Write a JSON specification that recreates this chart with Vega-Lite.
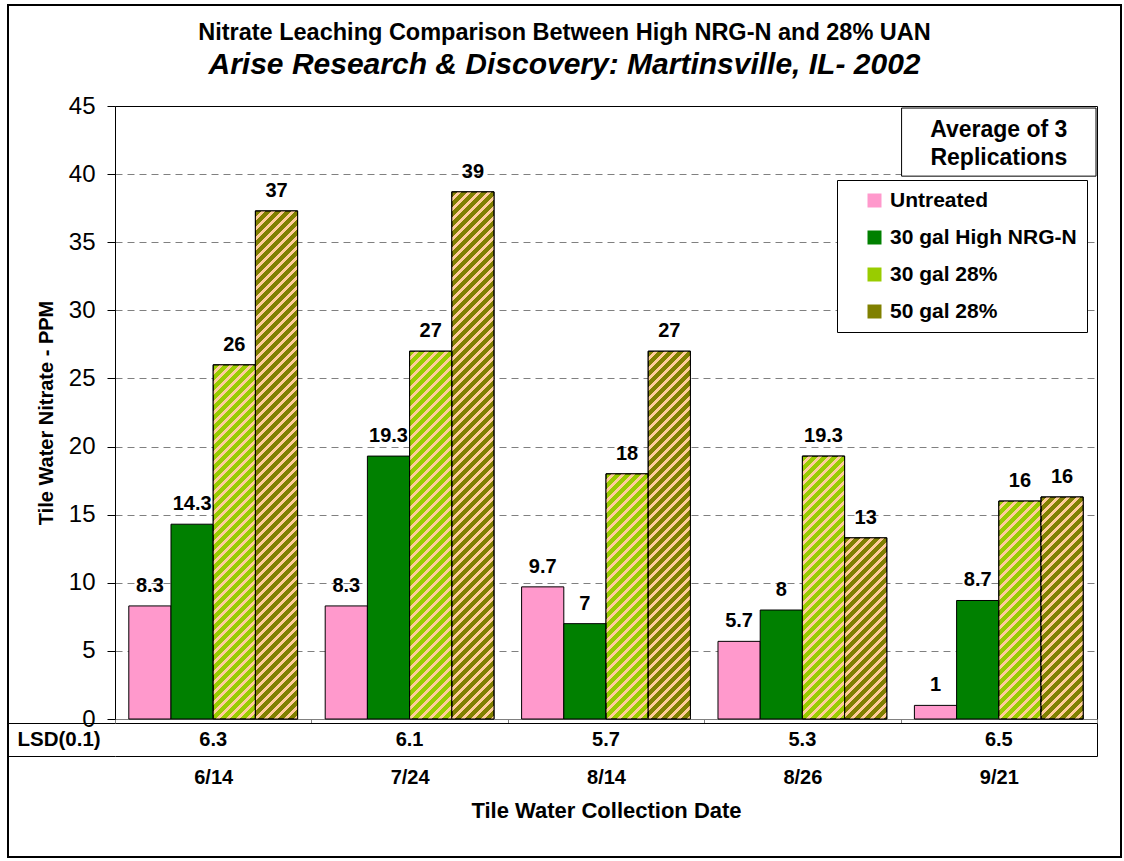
{
  "$schema": "https://vega.github.io/schema/vega-lite/v6.json",
  "width": 1113,
  "height": 852,
  "autosize": {"type": "none"},
  "padding": {"left": 8, "top": 5, "right": 3, "bottom": 4},
  "background": "white",
  "config": {
    "font": "Liberation Sans",
    "view": {"stroke": "black", "strokeWidth": 2},
    "axis": {"labelColor": "black", "titleColor": "black"}
  },
  "title": {
    "text": "Nitrate Leaching Comparison Between High NRG-N and 28% UAN",
    "subtitle": "Arise Research & Discovery: Martinsville, IL- 2002",
    "anchor": "middle",
    "frame": "group",
    "fontSize": 23.5,
    "fontWeight": "bold",
    "color": "black",
    "subtitleFontSize": 30,
    "subtitleFontWeight": "bold",
    "subtitleFontStyle": "italic",
    "subtitleColor": "black",
    "subtitlePadding": 6,
    "offset": -85
  },
  "params": [
    {
      "name": "stripes",
      "value": [
        {"offset":0,"color":"transparent"},{"offset":0.0096,"color":"transparent"},{"offset":0.0096,"color":"#FFCC99"},{"offset":0.016,"color":"#FFCC99"},
        {"offset":0.016,"color":"transparent"},{"offset":0.0256,"color":"transparent"},{"offset":0.0256,"color":"#FFCC99"},{"offset":0.032,"color":"#FFCC99"},
        {"offset":0.032,"color":"transparent"},{"offset":0.0416,"color":"transparent"},{"offset":0.0416,"color":"#FFCC99"},{"offset":0.048,"color":"#FFCC99"},
        {"offset":0.048,"color":"transparent"},{"offset":0.0576,"color":"transparent"},{"offset":0.0576,"color":"#FFCC99"},{"offset":0.064,"color":"#FFCC99"},
        {"offset":0.064,"color":"transparent"},{"offset":0.0736,"color":"transparent"},{"offset":0.0736,"color":"#FFCC99"},{"offset":0.08,"color":"#FFCC99"},
        {"offset":0.08,"color":"transparent"},{"offset":0.0896,"color":"transparent"},{"offset":0.0896,"color":"#FFCC99"},{"offset":0.096,"color":"#FFCC99"},
        {"offset":0.096,"color":"transparent"},{"offset":0.1056,"color":"transparent"},{"offset":0.1056,"color":"#FFCC99"},{"offset":0.112,"color":"#FFCC99"},
        {"offset":0.112,"color":"transparent"},{"offset":0.1216,"color":"transparent"},{"offset":0.1216,"color":"#FFCC99"},{"offset":0.128,"color":"#FFCC99"},
        {"offset":0.128,"color":"transparent"},{"offset":0.1376,"color":"transparent"},{"offset":0.1376,"color":"#FFCC99"},{"offset":0.144,"color":"#FFCC99"},
        {"offset":0.144,"color":"transparent"},{"offset":0.1536,"color":"transparent"},{"offset":0.1536,"color":"#FFCC99"},{"offset":0.16,"color":"#FFCC99"},
        {"offset":0.16,"color":"transparent"},{"offset":0.1696,"color":"transparent"},{"offset":0.1696,"color":"#FFCC99"},{"offset":0.176,"color":"#FFCC99"},
        {"offset":0.176,"color":"transparent"},{"offset":0.1856,"color":"transparent"},{"offset":0.1856,"color":"#FFCC99"},{"offset":0.192,"color":"#FFCC99"},
        {"offset":0.192,"color":"transparent"},{"offset":0.2016,"color":"transparent"},{"offset":0.2016,"color":"#FFCC99"},{"offset":0.208,"color":"#FFCC99"},
        {"offset":0.208,"color":"transparent"},{"offset":0.2176,"color":"transparent"},{"offset":0.2176,"color":"#FFCC99"},{"offset":0.224,"color":"#FFCC99"},
        {"offset":0.224,"color":"transparent"},{"offset":0.2336,"color":"transparent"},{"offset":0.2336,"color":"#FFCC99"},{"offset":0.24,"color":"#FFCC99"},
        {"offset":0.24,"color":"transparent"},{"offset":0.2496,"color":"transparent"},{"offset":0.2496,"color":"#FFCC99"},{"offset":0.256,"color":"#FFCC99"},
        {"offset":0.256,"color":"transparent"},{"offset":0.2656,"color":"transparent"},{"offset":0.2656,"color":"#FFCC99"},{"offset":0.272,"color":"#FFCC99"},
        {"offset":0.272,"color":"transparent"},{"offset":0.2816,"color":"transparent"},{"offset":0.2816,"color":"#FFCC99"},{"offset":0.288,"color":"#FFCC99"},
        {"offset":0.288,"color":"transparent"},{"offset":0.2976,"color":"transparent"},{"offset":0.2976,"color":"#FFCC99"},{"offset":0.304,"color":"#FFCC99"},
        {"offset":0.304,"color":"transparent"},{"offset":0.3136,"color":"transparent"},{"offset":0.3136,"color":"#FFCC99"},{"offset":0.32,"color":"#FFCC99"},
        {"offset":0.32,"color":"transparent"},{"offset":0.3296,"color":"transparent"},{"offset":0.3296,"color":"#FFCC99"},{"offset":0.336,"color":"#FFCC99"},
        {"offset":0.336,"color":"transparent"},{"offset":0.3456,"color":"transparent"},{"offset":0.3456,"color":"#FFCC99"},{"offset":0.352,"color":"#FFCC99"},
        {"offset":0.352,"color":"transparent"},{"offset":0.3616,"color":"transparent"},{"offset":0.3616,"color":"#FFCC99"},{"offset":0.368,"color":"#FFCC99"},
        {"offset":0.368,"color":"transparent"},{"offset":0.3776,"color":"transparent"},{"offset":0.3776,"color":"#FFCC99"},{"offset":0.384,"color":"#FFCC99"},
        {"offset":0.384,"color":"transparent"},{"offset":0.3936,"color":"transparent"},{"offset":0.3936,"color":"#FFCC99"},{"offset":0.4,"color":"#FFCC99"},
        {"offset":0.4,"color":"transparent"},{"offset":0.4096,"color":"transparent"},{"offset":0.4096,"color":"#FFCC99"},{"offset":0.416,"color":"#FFCC99"},
        {"offset":0.416,"color":"transparent"},{"offset":0.4256,"color":"transparent"},{"offset":0.4256,"color":"#FFCC99"},{"offset":0.432,"color":"#FFCC99"},
        {"offset":0.432,"color":"transparent"},{"offset":0.4416,"color":"transparent"},{"offset":0.4416,"color":"#FFCC99"},{"offset":0.448,"color":"#FFCC99"},
        {"offset":0.448,"color":"transparent"},{"offset":0.4576,"color":"transparent"},{"offset":0.4576,"color":"#FFCC99"},{"offset":0.464,"color":"#FFCC99"},
        {"offset":0.464,"color":"transparent"},{"offset":0.4736,"color":"transparent"},{"offset":0.4736,"color":"#FFCC99"},{"offset":0.48,"color":"#FFCC99"},
        {"offset":0.48,"color":"transparent"},{"offset":0.4896,"color":"transparent"},{"offset":0.4896,"color":"#FFCC99"},{"offset":0.496,"color":"#FFCC99"},
        {"offset":0.496,"color":"transparent"},{"offset":0.5056,"color":"transparent"},{"offset":0.5056,"color":"#FFCC99"},{"offset":0.512,"color":"#FFCC99"},
        {"offset":0.512,"color":"transparent"},{"offset":0.5216,"color":"transparent"},{"offset":0.5216,"color":"#FFCC99"},{"offset":0.528,"color":"#FFCC99"},
        {"offset":0.528,"color":"transparent"},{"offset":0.5376,"color":"transparent"},{"offset":0.5376,"color":"#FFCC99"},{"offset":0.544,"color":"#FFCC99"},
        {"offset":0.544,"color":"transparent"},{"offset":0.5536,"color":"transparent"},{"offset":0.5536,"color":"#FFCC99"},{"offset":0.56,"color":"#FFCC99"},
        {"offset":0.56,"color":"transparent"},{"offset":0.5696,"color":"transparent"},{"offset":0.5696,"color":"#FFCC99"},{"offset":0.576,"color":"#FFCC99"},
        {"offset":0.576,"color":"transparent"},{"offset":0.5856,"color":"transparent"},{"offset":0.5856,"color":"#FFCC99"},{"offset":0.592,"color":"#FFCC99"},
        {"offset":0.592,"color":"transparent"},{"offset":0.6016,"color":"transparent"},{"offset":0.6016,"color":"#FFCC99"},{"offset":0.608,"color":"#FFCC99"},
        {"offset":0.608,"color":"transparent"},{"offset":0.6176,"color":"transparent"},{"offset":0.6176,"color":"#FFCC99"},{"offset":0.624,"color":"#FFCC99"},
        {"offset":0.624,"color":"transparent"},{"offset":0.6336,"color":"transparent"},{"offset":0.6336,"color":"#FFCC99"},{"offset":0.64,"color":"#FFCC99"},
        {"offset":0.64,"color":"transparent"},{"offset":0.6496,"color":"transparent"},{"offset":0.6496,"color":"#FFCC99"},{"offset":0.656,"color":"#FFCC99"},
        {"offset":0.656,"color":"transparent"},{"offset":0.6656,"color":"transparent"},{"offset":0.6656,"color":"#FFCC99"},{"offset":0.672,"color":"#FFCC99"},
        {"offset":0.672,"color":"transparent"},{"offset":0.6816,"color":"transparent"},{"offset":0.6816,"color":"#FFCC99"},{"offset":0.688,"color":"#FFCC99"},
        {"offset":0.688,"color":"transparent"},{"offset":0.6976,"color":"transparent"},{"offset":0.6976,"color":"#FFCC99"},{"offset":0.704,"color":"#FFCC99"},
        {"offset":0.704,"color":"transparent"},{"offset":0.7136,"color":"transparent"},{"offset":0.7136,"color":"#FFCC99"},{"offset":0.72,"color":"#FFCC99"},
        {"offset":0.72,"color":"transparent"},{"offset":0.7296,"color":"transparent"},{"offset":0.7296,"color":"#FFCC99"},{"offset":0.736,"color":"#FFCC99"},
        {"offset":0.736,"color":"transparent"},{"offset":0.7456,"color":"transparent"},{"offset":0.7456,"color":"#FFCC99"},{"offset":0.752,"color":"#FFCC99"},
        {"offset":0.752,"color":"transparent"},{"offset":0.7616,"color":"transparent"},{"offset":0.7616,"color":"#FFCC99"},{"offset":0.768,"color":"#FFCC99"},
        {"offset":0.768,"color":"transparent"},{"offset":0.7776,"color":"transparent"},{"offset":0.7776,"color":"#FFCC99"},{"offset":0.784,"color":"#FFCC99"},
        {"offset":0.784,"color":"transparent"},{"offset":0.7936,"color":"transparent"},{"offset":0.7936,"color":"#FFCC99"},{"offset":0.8,"color":"#FFCC99"},
        {"offset":0.8,"color":"transparent"},{"offset":0.8096,"color":"transparent"},{"offset":0.8096,"color":"#FFCC99"},{"offset":0.816,"color":"#FFCC99"},
        {"offset":0.816,"color":"transparent"},{"offset":0.8256,"color":"transparent"},{"offset":0.8256,"color":"#FFCC99"},{"offset":0.832,"color":"#FFCC99"},
        {"offset":0.832,"color":"transparent"},{"offset":0.8416,"color":"transparent"},{"offset":0.8416,"color":"#FFCC99"},{"offset":0.848,"color":"#FFCC99"},
        {"offset":0.848,"color":"transparent"},{"offset":0.8576,"color":"transparent"},{"offset":0.8576,"color":"#FFCC99"},{"offset":0.864,"color":"#FFCC99"},
        {"offset":0.864,"color":"transparent"},{"offset":0.8736,"color":"transparent"},{"offset":0.8736,"color":"#FFCC99"},{"offset":0.88,"color":"#FFCC99"},
        {"offset":0.88,"color":"transparent"},{"offset":0.8896,"color":"transparent"},{"offset":0.8896,"color":"#FFCC99"},{"offset":0.896,"color":"#FFCC99"},
        {"offset":0.896,"color":"transparent"},{"offset":0.9056,"color":"transparent"},{"offset":0.9056,"color":"#FFCC99"},{"offset":0.912,"color":"#FFCC99"},
        {"offset":0.912,"color":"transparent"},{"offset":0.9216,"color":"transparent"},{"offset":0.9216,"color":"#FFCC99"},{"offset":0.928,"color":"#FFCC99"}
      ]
    }
  ],
  "datasets": {
    "nitrate": [
      {"date": "6/14", "series": "Untreated", "value": 8.3, "label": "8.3"},
      {"date": "6/14", "series": "30 gal High NRG-N", "value": 14.3, "label": "14.3"},
      {"date": "6/14", "series": "30 gal 28%", "value": 26, "label": "26"},
      {"date": "6/14", "series": "50 gal 28%", "value": 37.3, "label": "37"},
      {"date": "7/24", "series": "Untreated", "value": 8.3, "label": "8.3"},
      {"date": "7/24", "series": "30 gal High NRG-N", "value": 19.3, "label": "19.3"},
      {"date": "7/24", "series": "30 gal 28%", "value": 27, "label": "27"},
      {"date": "7/24", "series": "50 gal 28%", "value": 38.7, "label": "39"},
      {"date": "8/14", "series": "Untreated", "value": 9.7, "label": "9.7"},
      {"date": "8/14", "series": "30 gal High NRG-N", "value": 7, "label": "7"},
      {"date": "8/14", "series": "30 gal 28%", "value": 18, "label": "18"},
      {"date": "8/14", "series": "50 gal 28%", "value": 27, "label": "27"},
      {"date": "8/26", "series": "Untreated", "value": 5.7, "label": "5.7"},
      {"date": "8/26", "series": "30 gal High NRG-N", "value": 8, "label": "8"},
      {"date": "8/26", "series": "30 gal 28%", "value": 19.3, "label": "19.3"},
      {"date": "8/26", "series": "50 gal 28%", "value": 13.3, "label": "13"},
      {"date": "9/21", "series": "Untreated", "value": 1, "label": "1"},
      {"date": "9/21", "series": "30 gal High NRG-N", "value": 8.7, "label": "8.7"},
      {"date": "9/21", "series": "30 gal 28%", "value": 16, "label": "16"},
      {"date": "9/21", "series": "50 gal 28%", "value": 16.3, "label": "16"}
    ],
    "lsd": [
      {"date": "6/14", "row": "LSD(0.1)", "lsd": 6.3},
      {"date": "7/24", "row": "LSD(0.1)", "lsd": 6.1},
      {"date": "8/14", "row": "LSD(0.1)", "lsd": 5.7},
      {"date": "8/26", "row": "LSD(0.1)", "lsd": 5.3},
      {"date": "9/21", "row": "LSD(0.1)", "lsd": 6.5}
    ]
  },
  "layer": [
    {
      "data": {"name": "nitrate"},
      "layer": [
        {
          "mark": {"type": "bar", "stroke": "black", "strokeWidth": 1},
          "encoding": {
            "x": {
              "field": "date", "type": "nominal",
              "scale": {"domain": ["6/14", "7/24", "8/14", "8/26", "9/21"], "range": [107, 1089], "paddingInner": 0, "paddingOuter": 0},
              "axis": {
                "orient": "bottom", "offset": -138,
                "title": "Tile Water Collection Date", "titleFontSize": 22, "titleFontWeight": "bold", "titlePadding": 13,
                "labelFontSize": 20, "labelFontWeight": "bold", "labelPadding": 44, "labelAngle": 0,
                "tickBand": "extent", "tickSize": 4, "tickColor": "#808080", "domainColor": "#808080", "grid": false
              }
            },
            "xOffset": {
              "field": "series", "type": "nominal",
              "scale": {"domain": ["Untreated", "30 gal High NRG-N", "30 gal 28%", "50 gal 28%"], "paddingInner": 0, "paddingOuter": 0.327}
            },
            "y": {
              "field": "value", "type": "quantitative",
              "scale": {"domain": [0, 45], "range": [714, 101], "nice": false, "zero": false},
              "axis": {
                "orient": "left", "offset": -107, "values": [0, 5, 10, 15, 20, 25, 30, 35, 40, 45],
                "tickSize": 8, "tickColor": "black", "domainColor": "black",
                "labelFontSize": 24, "labelPadding": 12,
                "grid": true, "gridColor": "#808080", "gridDash": [7, 5],
                "title": "Tile Water Nitrate - PPM", "titleFontSize": 20, "titleFontWeight": "bold", "titlePadding": 12
              }
            },
            "color": {
              "field": "series", "type": "nominal",
              "scale": {"domain": ["Untreated", "30 gal High NRG-N", "30 gal 28%", "50 gal 28%"], "range": ["#FF99CC", "#008000", "#99CC00", "#808000"]},
              "legend": {
                "orient": "none", "legendX": 829, "legendY": 175, "title": null,
                "symbolType": "square", "symbolSize": 196, "symbolStrokeColor": "black", "symbolStrokeWidth": 1, "symbolOffset": 17,
                "labelFontSize": 21, "labelFontWeight": "bold", "labelColor": "black", "labelOffset": 5, "labelLimit": 400,
                "rowPadding": 15, "padding": 10, "strokeColor": "black", "fillColor": "white",
                "encode": {
                  "symbols": {
                    "update": {
                      "fill": {"signal": "datum.value === '30 gal 28%' ? {gradient: 'linear', x1: 0, y1: 0, x2: 1, y2: 1, stops: [{offset: 0, color: '#99CC00'}, {offset: 0.42, color: '#99CC00'}, {offset: 0.42, color: '#FFCC99'}, {offset: 0.6, color: '#FFCC99'}, {offset: 0.6, color: '#99CC00'}, {offset: 1, color: '#99CC00'}]} : datum.value === '50 gal 28%' ? {gradient: 'linear', x1: 0, y1: 0, x2: 1, y2: 1, stops: [{offset: 0, color: '#808000'}, {offset: 0.42, color: '#808000'}, {offset: 0.42, color: '#FFCC99'}, {offset: 0.6, color: '#FFCC99'}, {offset: 0.6, color: '#808000'}, {offset: 1, color: '#808000'}]} : datum.value === 'Untreated' ? '#FF99CC' : '#008000'"}
                    }
                  }
                }
              }
            }
          }
        },
        {
          "transform": [{"filter": "datum.series === '30 gal 28%' || datum.series === '50 gal 28%'"}],
          "mark": {"type": "bar", "stroke": "black", "strokeWidth": 1},
          "encoding": {
            "x": {"field": "date", "type": "nominal", "axis": null},
            "xOffset": {"field": "series", "type": "nominal"},
            "y": {"field": "value", "type": "quantitative", "axis": null},
            "fill": {"value": {"expr": "{gradient: 'linear', x1: 0, y1: 0, x2: 26375 / (1780.84 + pow(13.622 * datum.value, 2)), y2: 8513.75 * datum.value / (1780.84 + pow(13.622 * datum.value, 2)), stops: stripes}"}}
          }
        },
        {
          "mark": {"type": "text", "fontSize": 20, "fontWeight": "bold", "dy": -14, "baseline": "alphabetic", "color": "black"},
          "encoding": {
            "x": {
              "field": "date", "type": "nominal",
              "axis": {"orient": "top", "offset": -101, "labels": false, "ticks": false, "grid": false, "domain": true, "domainColor": "black", "title": null}
            },
            "xOffset": {"field": "series", "type": "nominal"},
            "y": {
              "field": "value", "type": "quantitative",
              "axis": {"orient": "right", "offset": -24, "labels": false, "ticks": false, "grid": false, "domain": true, "domainColor": "black", "title": null}
            },
            "text": {"field": "label"}
          }
        },
        {
          "data": {"values": [{"note": "Average of 3\nReplications"}]},
          "mark": {"type": "bar", "fill": "white", "stroke": "black", "strokeWidth": 1, "width": {"band": 0.99}},
          "encoding": {
            "x": {"datum": "9/21", "type": "nominal", "axis": null},
            "y": {"datum": 44.85, "type": "quantitative", "axis": null},
            "y2": {"datum": 39.85}
          }
        },
        {
          "data": {"values": [{"note": "Average of 3\nReplications"}]},
          "mark": {"type": "text", "fontSize": 23, "fontWeight": "bold", "lineBreak": "\n", "lineHeight": 28, "baseline": "middle", "align": "center", "color": "black"},
          "encoding": {
            "x": {"datum": "9/21", "type": "nominal", "axis": null},
            "y": {"datum": 43.25, "type": "quantitative", "axis": null},
            "text": {"field": "note"}
          }
        }
      ],
      "resolve": {"axis": {"x": "independent", "y": "independent"}}
    },
    {
      "data": {"name": "lsd"},
      "layer": [
        {
          "mark": {"type": "bar", "fill": "white"},
          "encoding": {
            "x": {"field": "date", "type": "nominal", "axis": null},
            "y": {
              "field": "row", "type": "nominal",
              "scale": {"domain": ["LSD(0.1)"], "range": [718, 751], "paddingInner": 0, "paddingOuter": 0},
              "axis": {"orient": "right", "offset": -24, "labels": false, "ticks": false, "grid": false, "domain": true, "domainColor": "black", "title": null, "zindex": 1}
            }
          }
        },
        {
          "mark": {"type": "text", "fontSize": 20, "fontWeight": "bold", "color": "black", "baseline": "middle"},
          "encoding": {
            "x": {"field": "date", "type": "nominal", "axis": null},
            "y": {
              "field": "row", "type": "nominal",
              "axis": {
                "orient": "left", "offset": -107, "domain": false,
                "ticks": true, "tickSize": 107, "tickColor": "black", "tickBand": "extent",
                "grid": true, "gridColor": "black", "gridDash": [], "gridWidth": 1,
                "labelAlign": "left", "labelPadding": -9, "labelFontSize": 20.5, "labelFontWeight": "bold", "labelColor": "black", "labelBaseline": "middle",
                "title": null, "zindex": 1
              }
            },
            "text": {"field": "lsd", "type": "quantitative"}
          }
        }
      ],
      "resolve": {"axis": {"y": "independent"}}
    }
  ],
  "resolve": {"scale": {"y": "independent"}, "axis": {"x": "independent", "y": "independent"}}
}
